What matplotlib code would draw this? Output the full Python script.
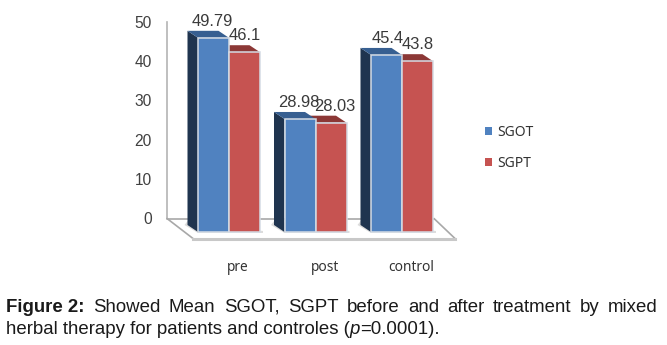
import matplotlib
matplotlib.use("Agg")
import matplotlib.pyplot as plt
from matplotlib.patches import Polygon
from matplotlib.transforms import ScaledTranslation
from matplotlib.patches import Patch

categories = ["pre", "post", "control"]
sgot = [49.79, 28.98, 45.4]
sgpt = [46.1, 28.03, 43.8]
sgot_labels = ["49.79", "28.98", "45.4"]
sgpt_labels = ["46.1", "28.03", "43.8"]
yticks = [0, 10, 20, 30, 40, 50]
caption_bold = "Figure 2:"
caption_line1 = "Showed Mean SGOT, SGPT before and after treatment by mixed"
caption_line2 = "herbal therapy for patients and controles ("

W, H = 667, 345
DPI = 100
plt.rcParams['font.family'] = ['Liberation Sans', 'DejaVu Sans']
fig = plt.figure(figsize=(W / DPI, H / DPI), dpi=DPI, facecolor='white')

def axes_px(x0, ytop, x1, ybot, **kw):
    return fig.add_axes([x0 / W, 1 - ybot / H, (x1 - x0) / W, (ybot - ytop) / H], **kw)

back = axes_px(167, 22, 467, 218)
back.set_ylim(0, 50)
back.set_xlim(0, 1)
back.patch.set_alpha(0)
for s in ['top', 'right', 'bottom']:
    back.spines[s].set_visible(False)
back.spines['left'].set_color('#b4b4b4')
back.spines['left'].set_linewidth(1.2)
back.set_xticks([])
back.set_yticks(yticks)
back.tick_params(axis='y', length=0, pad=11, labelsize=11.2, labelcolor='#404040')

PX_X = 86.5
PX_Y = 3.9
x0_px, x1_px = 167, 467
xc = 229
ax = axes_px(x0_px, 232 - 50 * PX_Y, x1_px, 232)
ax.set_xlim((x0_px - xc) / PX_X, (x1_px - xc) / PX_X)
ax.set_ylim(0, 50)
ax.patch.set_alpha(0)
for s in ax.spines.values():
    s.set_visible(False)
ax.set_yticks([])
bw = 31 / PX_X
dx = 10.5 / PX_X
dy = 7 / PX_Y

floor_xl = (193 - xc) / PX_X
floor_xr = (455 - xc) / PX_X
fy = -6.5 / PX_Y
ax.add_patch(Polygon([(floor_xl, fy), (floor_xr, fy), (floor_xr - 21 / PX_X, fy + 20 / PX_Y),
                      (floor_xl - 26 / PX_X, fy + 20 / PX_Y)],
                     closed=True, fc='white', ec='none', clip_on=False, zorder=1))
gl = dict(color='#a8a8a8', lw=1.2, clip_on=False, zorder=2, solid_capstyle='round')
ax.plot([floor_xl - 26 / PX_X, floor_xl], [fy + 20 / PX_Y, fy], **gl)
ax.plot([floor_xl - 26 / PX_X, floor_xr - 21 / PX_X], [fy + 20 / PX_Y, fy + 20 / PX_Y], **gl)
ax.plot([floor_xr - 21 / PX_X, floor_xr], [fy + 20 / PX_Y, fy], **gl)
ax.plot([floor_xl, floor_xr], [fy, fy], color='#c8c8c8', lw=2.2, clip_on=False, zorder=2)

edge = '#d4dbe4'
for i, (a, b) in enumerate(zip(sgot, sgpt)):
    l = i - bw
    ax.add_patch(Polygon([(l - dx - 3 / PX_X, dy), (l, -1 / PX_Y), (i + bw + 3 / PX_X, -1 / PX_Y),
                          (i + bw + 3 / PX_X, 1 / PX_Y), (l - dx, dy + 1)], closed=True,
                         fc='#dcdcdc', ec='none', clip_on=False, zorder=2.5))
    ax.add_patch(Polygon([(l, 0), (l - dx, dy), (l - dx, a + dy), (l, a)], closed=True,
                         fc='#1f344f', ec='none', clip_on=False, zorder=3))
    ax.add_patch(Polygon([(i, b), (i + bw, b), (i + bw - dx, b + dy), (i - dx, b + dy)], closed=True,
                         fc='#8c3836', ec='none', clip_on=False, zorder=3))
    ax.add_patch(Polygon([(l, a), (i, a), (i - dx, a + dy), (l - dx, a + dy)], closed=True,
                         fc='#375f91', ec='none', clip_on=False, zorder=3.2))

ax.bar([i - bw / 2 for i in range(3)], sgot, bw, color='#5082c0', edgecolor=edge, linewidth=1.1, zorder=4, clip_on=False)
ax.bar([i + bw / 2 for i in range(3)], sgpt, bw, color='#c65351', edgecolor=edge, linewidth=1.1, zorder=4, clip_on=False)

lab = dict(fontsize=11.9, color='#3a3a3a', ha='center', va='baseline', zorder=6, clip_on=False)
PT = DPI / 72
blue_off = [(-1, 12), (-1, 12), (1, 12)]
red_off = [(0, 12), (4, 12), (0, 12)]
for i, (a, b) in enumerate(zip(sgot, sgpt)):
    ax.annotate(sgot_labels[i], (i - bw / 2, a), xytext=(blue_off[i][0] / PT, blue_off[i][1] / PT),
                textcoords='offset points', **lab)
    ax.annotate(sgpt_labels[i], (i + bw / 2, b), xytext=(red_off[i][0] / PT, red_off[i][1] / PT),
                textcoords='offset points', **lab)

ax.set_xticks(range(3))
ax.set_xticklabels(categories, family=['Noto Sans', 'DejaVu Sans'], fontsize=9.9, color='#333333')
ax.tick_params(axis='x', length=0, pad=20)
shift = ScaledTranslation(9 / DPI, 0, fig.dpi_scale_trans)
for t in ax.get_xticklabels():
    t.set_transform(t.get_transform() + shift)

handles = [Patch(fc='#5082c0', ec='none', label='SGOT'), Patch(fc='#c65351', ec='none', label='SGPT')]
fig.legend(handles=handles, loc='center left', bbox_to_anchor=(485 / W, 1 - 148 / H), frameon=False,
           prop={'family': 'Noto Sans', 'size': 10}, labelcolor='#333333',
           handlelength=0.5, handleheight=0.5, handletextpad=0.35, labelspacing=1.15,
           borderpad=0, borderaxespad=0)

r = fig.canvas.get_renderer()
def tw(s, **kw):
    t = fig.text(0, 0, s, **kw)
    w = t.get_window_extent(r).width
    t.remove()
    return w

fs = 13.4
words = [(caption_bold, 'bold')] + [(w, 'normal') for w in caption_line1.split()]
widths = [tw(w, fontsize=fs, fontweight=fw) for w, fw in words]
left, right = 6, 658
gap = (right - left - sum(widths)) / (len(words) - 1)
x = left
for (w, fw), wd in zip(words, widths):
    fig.text(x / W, 1 - 311.5 / H, w, fontsize=fs, fontweight=fw, color='#1a1a1a', va='baseline')
    x += wd + gap
x = left
for s, st in [(caption_line2, 'normal'), ("p", 'italic'), ("=0.0001).", 'normal')]:
    fig.text(x / W, 1 - 334.5 / H, s, fontsize=fs, fontstyle=st, color='#1a1a1a', va='baseline')
    x += tw(s + ".", fontsize=fs, fontstyle=st) - tw(".", fontsize=fs, fontstyle=st)

fig.savefig('out.png', dpi=DPI, facecolor='white')
